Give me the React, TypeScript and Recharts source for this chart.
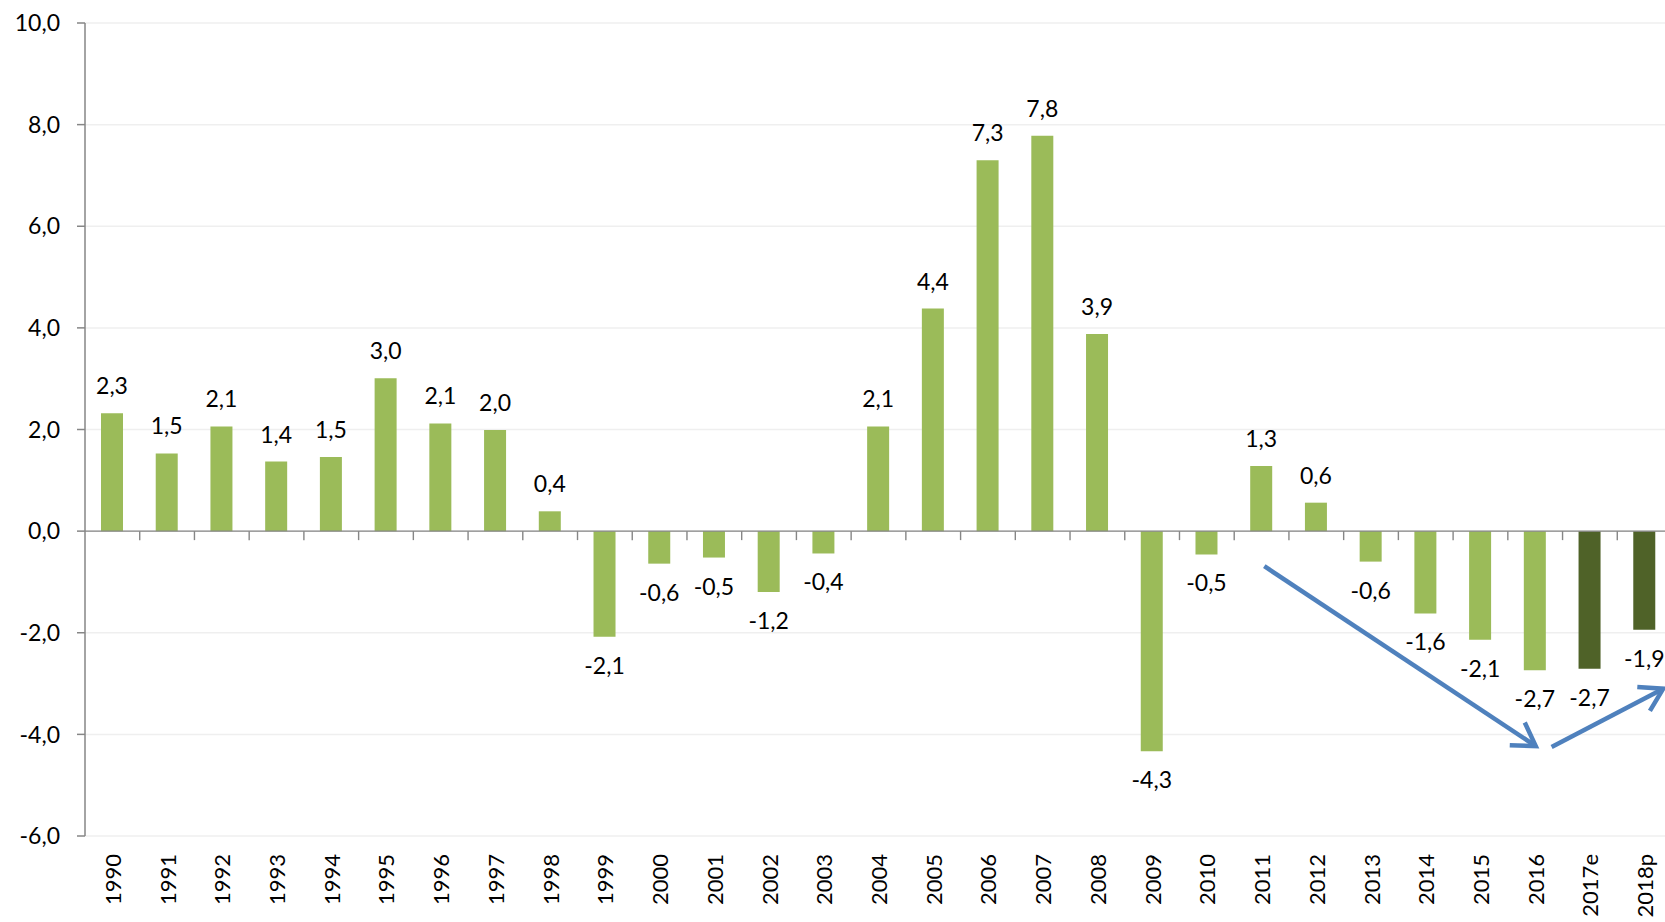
import { Bar, BarChart, CartesianGrid, Cell, LabelList, ReferenceLine, XAxis, YAxis } from 'recharts'

const years = [
  '1990', '1991', '1992', '1993', '1994', '1995', '1996', '1997', '1998', '1999',
  '2000', '2001', '2002', '2003', '2004', '2005', '2006', '2007', '2008', '2009',
  '2010', '2011', '2012', '2013', '2014', '2015', '2016', '2017e', '2018p',
]
const growth = [
  2.32, 1.53, 2.06, 1.37, 1.46, 3.01, 2.12, 1.99, 0.39, -2.08,
  -0.64, -0.52, -1.2, -0.44, 2.06, 4.38, 7.3, 7.78, 3.88, -4.33,
  -0.46, 1.28, 0.56, -0.6, -1.62, -2.14, -2.74, -2.71, -1.94,
]
const forecastYears = ['2017e', '2018p']
const yTicks = [-6, -4, -2, 0, 2, 4, 6, 8, 10]

// trend arrows, x as fractional bar index
const arrowDown = [{ x: 21.05, y: -0.69 }, { x: 26.01, y: -4.23 }]
const arrowUp = [{ x: 26.3, y: -4.25 }, { x: 28.34, y: -3.1 }]

const data = years.map((year, i) => ({ year, value: growth[i] }))

const GREEN = '#9BBB59'
const DARK_GREEN = '#4F6228'
const AXIS = '#868686'
const ARROW = '#4F81BD'

const fmt = (v: number) => v.toFixed(1).replace('.', ',')

function YearTick({ x, y, payload }: any) {
  return (
    <text
      x={x}
      y={y + 10}
      transform={`rotate(-90 ${x} ${y + 10})`}
      textAnchor="end"
      dominantBaseline="central"
      fill="#000"
      fontSize={22}
    >
      {payload.value}
    </text>
  )
}

function ValueLabel({ x, y, width, height, value }: any) {
  const top = Math.min(y, y + height)
  const bottom = Math.max(y, y + height)
  const neg = value < 0
  return (
    <text x={x + width / 2} y={neg ? bottom + 37 : top - 19} textAnchor="middle" fill="#000" fontSize={23}>
      {fmt(value)}
    </text>
  )
}

function ZeroAxis({ x1, y1, x2 }: any) {
  const step = (x2 - x1) / years.length
  return (
    <g stroke={AXIS} strokeWidth={1.4}>
      <line x1={x1} y1={y1} x2={x2} y2={y1} />
      {years.map((_, i) => (
        <line key={i} x1={x1 + step * (i + 1)} y1={y1} x2={x1 + step * (i + 1)} y2={y1 + 9} />
      ))}
    </g>
  )
}

// segment snaps to the nearest categories; the fractional part is applied using the band step
function arrowProps(pts: { x: number; y: number }[]) {
  const i0 = Math.round(pts[0].x)
  const i1 = Math.round(pts[1].x)
  const segment = [
    { x: years[i0], y: pts[0].y },
    { x: years[i1], y: pts[1].y },
  ]
  const shape = ({ x1, y1, x2, y2 }: any) => {
    const step = (x2 - x1) / (i1 - i0)
    const sx = x1 + (pts[0].x - i0) * step
    const ex = x2 + (pts[1].x - i1) * step
    const a = Math.atan2(y2 - y1, ex - sx)
    const h = 26
    const s = 0.55
    const p1 = `${ex - h * Math.cos(a - s)},${y2 - h * Math.sin(a - s)}`
    const p2 = `${ex - h * Math.cos(a + s)},${y2 - h * Math.sin(a + s)}`
    return (
      <g stroke={ARROW} strokeWidth={4.5} fill="none">
        <line x1={sx} y1={y1} x2={ex} y2={y2} />
        <polyline points={`${p1} ${ex},${y2} ${p2}`} strokeLinejoin="miter" />
      </g>
    )
  }
  return { segment, shape }
}

const downArrow = arrowProps(arrowDown)
const upArrow = arrowProps(arrowUp)

export default function App() {
  return (
    <div
      style={{
        position: 'fixed', left: 0, top: 0, width: 1665, height: 922,
        overflow: 'hidden', background: '#fff', fontFamily: 'Lato, sans-serif',
      }}
    >
      <BarChart width={1700} height={922} data={data} margin={{ top: 23, right: 28, bottom: 0, left: 0 }}>
        <CartesianGrid vertical={false} stroke="#EFEFEF" strokeWidth={1.5} />
        <XAxis
          dataKey="year"
          interval={0}
          axisLine={false}
          tickLine={false}
          height={86}
          tick={<YearTick />}
        />
        <YAxis
          width={85}
          domain={[-6, 10]}
          ticks={yTicks}
          tickFormatter={fmt}
          axisLine={{ stroke: AXIS, strokeWidth: 1.5 }}
          tickLine={{ stroke: AXIS, strokeWidth: 1.5 }}
          tickSize={8}
          tickMargin={17}
          tick={{ fill: '#000', fontSize: 23 }}
        />
        <Bar dataKey="value" barSize={22} isAnimationActive={false}>
          {data.map((d) => (
            <Cell key={d.year} fill={forecastYears.includes(d.year) ? DARK_GREEN : GREEN} />
          ))}
          <LabelList dataKey="value" content={<ValueLabel />} />
        </Bar>
        <ReferenceLine y={0} shape={<ZeroAxis />} />
        <ReferenceLine segment={downArrow.segment} shape={downArrow.shape} />
        <ReferenceLine segment={upArrow.segment} shape={upArrow.shape} />
      </BarChart>
    </div>
  )
}
